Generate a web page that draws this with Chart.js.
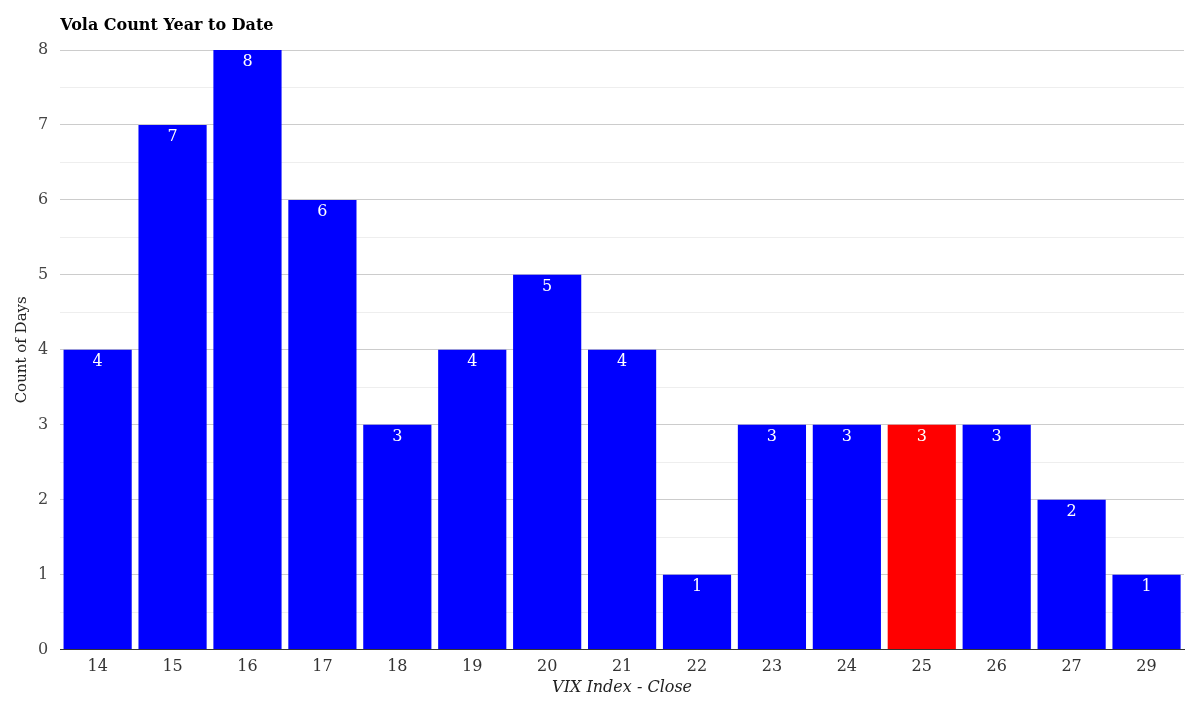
<!DOCTYPE html>
<html>
<head>
<meta charset="utf-8">
<script src="https://cdn.jsdelivr.net/npm/chart.js@4"></script>
<style>
  html, body { margin: 0; padding: 0; background: #fff; }
  #wrap { width: 1200px; height: 707px; }
</style>
</head>
<body>
<div id="wrap"><canvas id="vola-chart"></canvas></div>
<script>
// Chart data
const vixLevels = ['14', '15', '16', '17', '18', '19', '20', '21', '22', '23', '24', '25', '26', '27', '29'];
const dayCounts = [4, 7, 8, 6, 3, 4, 5, 4, 1, 3, 3, 3, 3, 2, 1];
const currentLevel = '25';
const yTicks = [0, 1, 2, 3, 4, 5, 6, 7, 8];

const FONT = "'DejaVu Serif', serif";
const barColors = vixLevels.map(l => l === currentLevel ? '#ff0000' : '#0000ff');

// Value labels inside the top of each bar + title over the plot area
const extras = {
    id: 'extras',
    afterDatasetsDraw(chart) {
        const ctx = chart.ctx;
        const meta = chart.getDatasetMeta(0);
        ctx.save();
        ctx.fillStyle = '#ffffff';
        ctx.font = '16px ' + FONT;
        ctx.textAlign = 'center';
        ctx.textBaseline = 'middle';
        meta.data.forEach((bar, i) => {
            ctx.fillText(String(dayCounts[i]), bar.x, bar.y + 12);
        });
        ctx.restore();
    },
    afterDraw(chart) {
        const ctx = chart.ctx;
        ctx.save();
        ctx.fillStyle = '#000';
        ctx.font = 'bold 16px ' + FONT;
        ctx.textAlign = 'left';
        ctx.textBaseline = 'middle';
        ctx.fillText('Vola Count Year to Date', chart.chartArea.left, 26);
        ctx.restore();
    }
};

const ctx = document.getElementById('vola-chart').getContext('2d');
const volaChart = new Chart(ctx, {
    type: 'bar',
    data: {
        labels: vixLevels,
        datasets: [{
            data: dayCounts,
            backgroundColor: barColors,
            barPercentage: 0.91,
            categoryPercentage: 1.0
        }]
    },
    options: {
        responsive: true,
        maintainAspectRatio: false,
        animation: false,
        layout: { padding: { top: 50, right: 16, left: 13, bottom: 10 } },
        plugins: {
            legend: { display: false },
            tooltip: { enabled: false }
        },
        scales: {
            x: {
                grid: { display: false, drawTicks: false },
                border: { display: true, color: '#333', width: 1 },
                ticks: { color: '#333', font: { family: FONT, size: 16 }, padding: 8 },
                title: {
                    display: true,
                    text: 'VIX Index - Close',
                    color: '#222',
                    font: { family: FONT, size: 16, style: 'italic' },
                    padding: { top: -7, bottom: 0 }
                }
            },
            y: {
                min: 0,
                max: 8,
                afterBuildTicks(axis) {
                    const t = [];
                    yTicks.forEach((v, i) => {
                        t.push({ value: v });
                        if (i < yTicks.length - 1) t.push({ value: v + 0.5 });
                    });
                    axis.ticks = t;
                },
                grid: {
                    drawTicks: false,
                    color: c => c.tick.value === 0 ? '#333' : (Number.isInteger(c.tick.value) ? '#cccccc' : '#eeeeee'),
                    lineWidth: 1
                },
                border: { display: false },
                ticks: {
                    color: '#444',
                    font: { family: FONT, size: 16 },
                    padding: 12,
                    callback: v => Number.isInteger(v) ? String(v) : ''
                },
                title: {
                    display: true,
                    text: 'Count of Days',
                    color: '#222',
                    font: { family: FONT, size: 15 },
                    padding: { top: 0, bottom: -5 }
                }
            }
        }
    },
    plugins: [extras]
});
</script>
</body>
</html>
